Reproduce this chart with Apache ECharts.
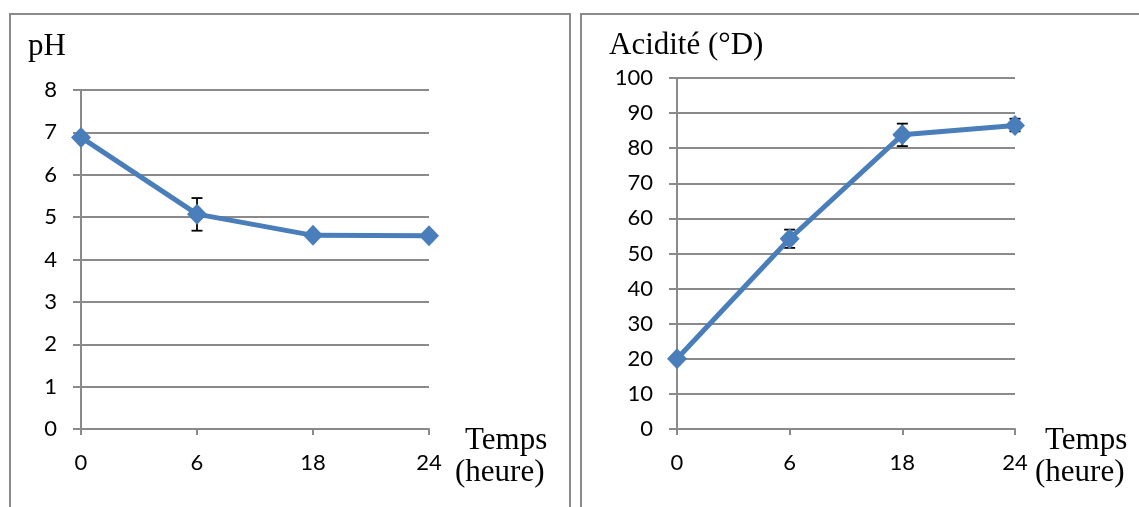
<!DOCTYPE html>
<html>
<head>
<meta charset="utf-8">
<script src="https://cdn.jsdelivr.net/npm/echarts@6/dist/echarts.min.js"></script>
<style>
html,body{margin:0;padding:0;background:#fff;}
#c{width:1139px;height:507px;}
</style>
</head>
<body>
<div id="c"></div>
<script>
const categories = ['0', '6', '18', '24'];
const phValues = [6.88, 5.07, 4.57, 4.56];
const phErrLow = [null, 4.68, null, null];
const phErrHigh = [null, 5.45, null, null];
const acidValues = [20, 54.2, 83.8, 86.5];
const acidErrLow = [null, 51.6, 80.6, 84.8];
const acidErrHigh = [null, 56.8, 87.0, 88.4];
const phTicks = [0, 1, 2, 3, 4, 5, 6, 7, 8];
const acidTicks = [0, 10, 20, 30, 40, 50, 60, 70, 80, 90, 100];

const BLUE = '#4a7ebb';
const GRID = '#8a8a8a';
const SANS = 'Lato';

function errData(lo, hi) {
  const out = [];
  for (let i = 0; i < categories.length; i++) {
    if (lo[i] != null && hi[i] != null) out.push([i, lo[i], hi[i]]);
  }
  return out;
}

function errRender(params, api) {
  const x = api.value(0);
  const lo = api.coord([x, api.value(1)]);
  const hi = api.coord([x, api.value(2)]);
  const cap = 5.5;
  const style = { stroke: '#000', lineWidth: 1.8, fill: null };
  return {
    type: 'group',
    children: [
      { type: 'line', shape: { x1: hi[0], y1: hi[1], x2: lo[0], y2: lo[1] }, style },
      { type: 'line', shape: { x1: hi[0] - cap, y1: hi[1], x2: hi[0] + cap, y2: hi[1] }, style },
      { type: 'line', shape: { x1: lo[0] - cap, y1: lo[1], x2: lo[0] + cap, y2: lo[1] }, style }
    ]
  };
}

function xAxis(gridIndex) {
  return {
    type: 'category', gridIndex, data: categories, boundaryGap: false,
    axisLine: { show: true, lineStyle: { color: GRID, width: 2 } },
    axisTick: { show: true, alignWithLabel: true, length: 6, lineStyle: { color: GRID, width: 2 } },
    axisLabel: { color: '#000', fontFamily: SANS, fontSize: 22, margin: 23 },
    splitLine: { show: false }
  };
}
function yAxis(gridIndex, ticks) {
  return {
    type: 'value', gridIndex, min: ticks[0], max: ticks[ticks.length - 1],
    interval: ticks[1] - ticks[0],
    axisLine: { show: true, lineStyle: { color: GRID, width: 2 } },
    axisTick: { show: true, length: 8, lineStyle: { color: GRID, width: 2 } },
    axisLabel: { color: '#000', fontFamily: SANS, fontSize: 22, margin: 24 },
    splitLine: { show: true, lineStyle: { color: GRID, width: 2 } }
  };
}

const chart = echarts.init(document.getElementById('c'), null, { renderer: 'canvas' });
chart.setOption({
  animation: false,
  backgroundColor: '#fff',
  grid: [
    { left: 81, top: 90, width: 348, height: 339 },
    { left: 677, top: 78, width: 338, height: 351 }
  ],
  xAxis: [xAxis(0), xAxis(1)],
  yAxis: [yAxis(0, phTicks), yAxis(1, acidTicks)],
  series: [
    { type: 'custom', xAxisIndex: 0, yAxisIndex: 0, z: 1, renderItem: errRender, data: errData(phErrLow, phErrHigh) },
    { type: 'line', xAxisIndex: 0, yAxisIndex: 0, z: 2, data: phValues,
      symbol: 'diamond', symbolSize: [20, 21], lineStyle: { color: BLUE, width: 5 },
      itemStyle: { color: BLUE, borderWidth: 0 } },
    { type: 'custom', xAxisIndex: 1, yAxisIndex: 1, z: 1, renderItem: errRender, data: errData(acidErrLow, acidErrHigh) },
    { type: 'line', xAxisIndex: 1, yAxisIndex: 1, z: 2, data: acidValues,
      symbol: 'diamond', symbolSize: [20, 21], lineStyle: { color: BLUE, width: 5 },
      itemStyle: { color: BLUE, borderWidth: 0 } }
  ],
  graphic: [
    { type: 'rect', shape: { x: 10, y: 14, width: 560, height: 600 }, style: { fill: null, stroke: GRID, lineWidth: 2 }, z: 0 },
    { type: 'rect', shape: { x: 581, y: 14, width: 620, height: 600 }, style: { fill: null, stroke: GRID, lineWidth: 2 }, z: 0 },
    { type: 'text', left: 28, top: 31, style: { text: 'pH', font: '31px "Liberation Serif"', fill: '#000' } },
    { type: 'text', left: 609, top: 30, style: { text: 'Acidité (°D)', font: '31px "Liberation Serif"', fill: '#000' } },
    { type: 'text', left: 465, top: 425, style: { text: 'Temps', font: '31px "Liberation Serif"', fill: '#000' } },
    { type: 'text', left: 455, top: 457, style: { text: '(heure)', font: '31px "Liberation Serif"', fill: '#000' } },
    { type: 'text', left: 1045, top: 425, style: { text: 'Temps', font: '31px "Liberation Serif"', fill: '#000' } },
    { type: 'text', left: 1035, top: 457, style: { text: '(heure)', font: '31px "Liberation Serif"', fill: '#000' } }
  ]
});
</script>
</body>
</html>
